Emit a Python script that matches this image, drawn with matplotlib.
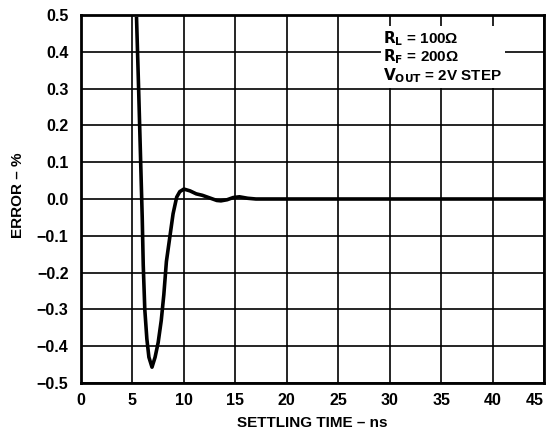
import matplotlib.pyplot as plt

plt.rcParams['font.family'] = ['Liberation Sans', 'DejaVu Sans']
plt.rcParams['font.weight'] = 'bold'

# settling error curve
time_ns = [5.4, 5.6, 5.8, 5.95, 6.05, 6.2, 6.4, 6.6, 6.9, 7.2, 7.5, 7.8, 8.05, 8.3, 8.65, 8.95,
           9.3, 9.6, 10.0, 10.6, 11.2, 11.8, 12.5, 13.2, 13.6, 14.2, 14.8, 15.4, 16.2, 17.0, 20, 30, 45]
error_pct = [0.49, 0.30, 0.10, -0.05, -0.18, -0.30, -0.38, -0.43, -0.457, -0.43, -0.39, -0.33,
             -0.26, -0.17, -0.10, -0.04, 0.005, 0.02, 0.027, 0.022, 0.014, 0.010, 0.003, -0.004,
             -0.005, -0.002, 0.004, 0.006, 0.002, 0.0, 0.0, 0.0, 0.0]

x_ticks = [0, 5, 10, 15, 20, 25, 30, 35, 40, 45]
y_ticks = [0.5, 0.4, 0.3, 0.2, 0.1, 0.0, -0.1, -0.2, -0.3, -0.4, -0.5]
y_labels = ['0.5', '0.4', '0.3', '0.2', '0.1', '0.0', '\u22120.1', '\u22120.2', '\u22120.3', '\u22120.4', '\u22120.5']

fig = plt.figure(figsize=(5.48, 4.30), dpi=100)
ax = fig.add_axes([81 / 548, 1 - 383 / 430, (544 - 81) / 548, (383 - 15) / 430])

ax.plot(time_ns, error_pct, color='black', lw=2.6, solid_joinstyle='round', zorder=3)

ax.set_xlim(0, 45)
ax.set_ylim(-0.5, 0.5)
ax.set_xticks(x_ticks)
ax.set_yticks(y_ticks)
ax.set_yticklabels(y_labels)
ax.tick_params(length=0, labelsize=11.5)
ax.tick_params(axis='y', pad=9)
ax.tick_params(axis='x', pad=7)
for lbl in ax.get_xticklabels() + ax.get_yticklabels():
    lbl.set_fontweight('bold')
ax.get_xticklabels()[-1].set_horizontalalignment('right')
ax.get_xticklabels()[-1].set_x(45.6)
ax.grid(True, color='black', lw=1.2)
for s in ax.spines.values():
    s.set_linewidth(2)

ax.set_xlabel('SETTLING TIME \u2013 ns', fontsize=11, fontweight='bold', va='center')
ax.xaxis.set_label_coords(0.5, -0.108)
ax.set_ylabel('ERROR \u2013 %', fontsize=11, fontweight='bold', va='center')
ax.yaxis.set_label_coords(-0.136, 0.51)

ax.text(29.4, 0.462, '$\\mathbf{R_L}$ = 100\u03a9\n$\\mathbf{R_F}$ = 200\u03a9\n$\\mathbf{V_{OUT}}$ = 2V STEP',
        fontsize=11, fontweight='bold', va='top', ha='left', linespacing=1.0,
        bbox=dict(facecolor='white', edgecolor='none', pad=2), zorder=4)

fig.savefig('out.png', dpi=100)
